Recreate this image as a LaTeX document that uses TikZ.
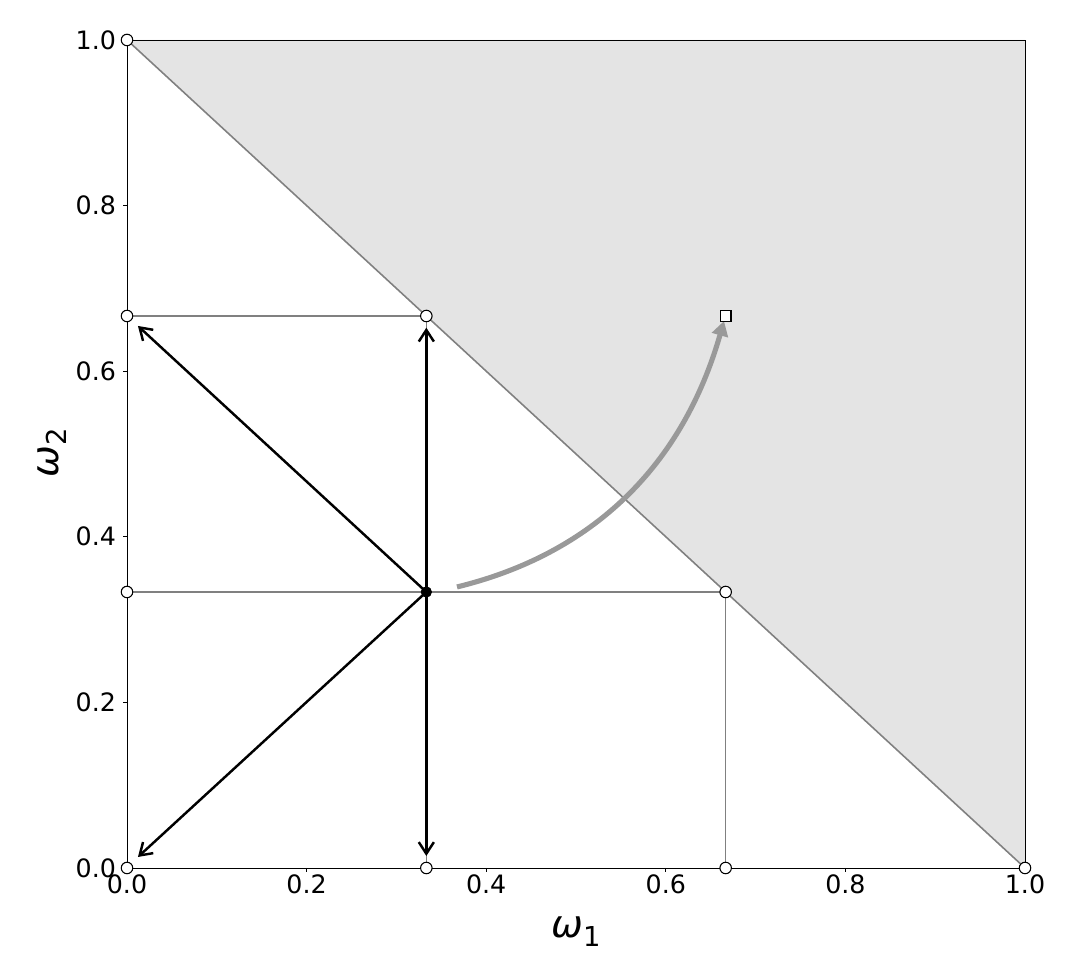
\documentclass[tikz,border=0pt]{standalone}
\usepackage{fontspec}
\setmainfont{DejaVu Sans}
\usetikzlibrary{arrows.meta}
\definecolor{gridgray}{HTML}{808080}
\definecolor{fillgray}{HTML}{E4E4E4}
\definecolor{curvegray}{HTML}{999999}
\begin{document}
\begin{tikzpicture}[x=8.98cm,y=8.28cm,
  gline/.style={draw=gridgray, line width=0.45pt},
  spine/.style={draw=black, line width=0.27pt},
  tickmark/.style={draw=black, line width=0.25pt},
  ocirc/.style={circle, draw=black, fill=white, line width=0.3pt, minimum size=0.115cm, inner sep=0pt},
  bdot/.style={circle, fill=black, minimum size=0.11cm, inner sep=0pt},
  osq/.style={rectangle, draw=black, fill=white, line width=0.4pt, minimum size=0.105cm, inner sep=0pt},
  barrow/.style={draw=black, line width=0.7pt, -{Straight Barb[length=3.3pt,width=4.3pt,line width=0.7pt]}},
  garrow/.style={draw=curvegray, line width=1.45pt, -{Triangle[length=4.2pt,width=4.6pt]}},
  xtl/.style={anchor=north, inner sep=0pt, font=\fontsize{7.2pt}{8pt}\selectfont},
  ytl/.style={anchor=east, inner sep=0pt, font=\fontsize{7.2pt}{8pt}\selectfont},
  alab/.style={inner sep=0pt, font=\fontsize{10.8pt}{12pt}\selectfont}
]
\useasboundingbox (-0.14143,-0.13406) rectangle (1.05679,1.04831);
% shaded region
\fill[fillgray] (0,1) -- (1,1) -- (1,0) -- cycle;
% guide lines
\draw[gline] (0,2/3) -- (1/3,2/3);
\draw[gline] (0,1/3) -- (2/3,1/3);
\draw[gline] (1/3,0) -- (1/3,2/3);
\draw[gline] (2/3,0) -- (2/3,1/3);
\draw[gline] (0,1) -- (1,0);
% frame
\draw[spine] (0,0) rectangle (1,1);
% ticks and labels
\foreach \v/\t in {0/0.0,0.2/0.2,0.4/0.4,0.6/0.6,0.8/0.8,1/1.0}{
  \draw[tickmark] (\v,0) -- ++(0,-0.042cm);
  \draw[tickmark] (0,\v) -- ++(-0.042cm,0);
  \node[xtl] (xt\t) at (\v,-0.0068) {\t};
  \node[ytl] (yt\t) at (-0.0115,\v) {\t};
}
% axis labels
\node[alab, anchor=base] (xlab) at (0.5,-0.0845) {\itshape ω\raisebox{-0.22em}{\fontsize{7.8pt}{9pt}\selectfont\upshape 1}};
\node[alab, anchor=base, rotate=90] (ylab) at (-0.0768,0.501) {\itshape ω\raisebox{-0.22em}{\fontsize{7.8pt}{9pt}\selectfont\upshape 2}};
% black arrows
\node[bdot] (c) at (1/3,1/3) {};
\coordinate (tUL) at (0.0122,0.6546);
\coordinate (tU) at (1/3,0.6525);
\coordinate (tD) at (1/3,0.0145);
\coordinate (tDL) at (0.0122,0.0133);
\draw[barrow] (c.center) -- (tUL);
\draw[barrow] (c.center) -- (tU);
\draw[barrow] (c.center) -- (tD);
\draw[barrow] (c.center) -- (tDL);
\node[bdot] at (c) {};
% gray curved arrow
\coordinate (gs) at (0.3675,0.3394);
\coordinate (ge) at (0.6648,0.6606);
\draw[garrow] (gs) .. controls (0.5197,0.3797) and (0.6188,0.4867) .. (ge);
% markers
\node[osq] (sq) at (2/3,2/3) {};
\node[ocirc] (p1) at (0,1) {};
\node[ocirc] (p2) at (0,2/3) {};
\node[ocirc] (p3) at (0,1/3) {};
\node[ocirc] (p4) at (0,0) {};
\node[ocirc] (p5) at (1/3,0) {};
\node[ocirc] (p6) at (2/3,0) {};
\node[ocirc] (p7) at (1,0) {};
\node[ocirc] (p8) at (2/3,1/3) {};
\node[ocirc] (p9) at (1/3,2/3) {};
\end{tikzpicture}
\end{document}
